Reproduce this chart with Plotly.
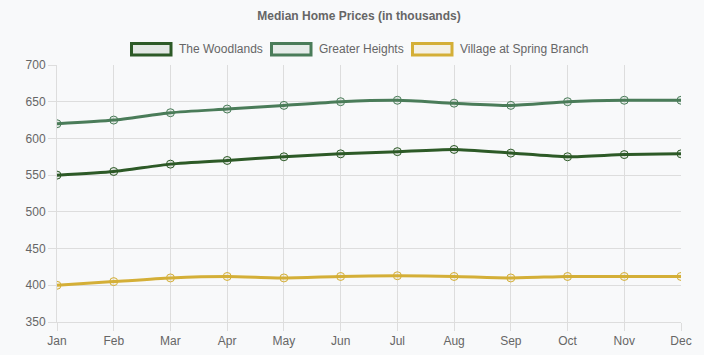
import plotly.graph_objects as go

months = ["Jan", "Feb", "Mar", "Apr", "May", "Jun", "Jul", "Aug", "Sep", "Oct", "Nov", "Dec"]
woodlands = [550, 555, 565, 570, 575, 579, 582, 585, 580, 575, 578, 579]
greater_heights = [620, 625, 635, 640, 645, 650, 652, 648, 645, 650, 652, 652]
village = [400, 405, 410, 412, 410, 412, 413, 412, 410, 412, 412, 412]

series = [
    ("The Woodlands", woodlands, "#2d5a27", "rgba(45,90,39,0.1)"),
    ("Greater Heights", greater_heights, "#4a7c59", "rgba(74,124,89,0.1)"),
    ("Village at Spring Branch", village, "#d4af37", "rgba(212,175,55,0.1)"),
]

W, H = 704, 355
L, R, T, B = 57, 23, 65, 33
PW, PH = W - L - R, H - T - B

def px_x(px):
    return (px - L) / PW

def px_y(py):
    return (H - B - py) / PH

fig = go.Figure()
for name, vals, color, fillc in series:
    fig.add_trace(go.Scatter(
        x=months, y=vals, mode="lines+markers", name=name, showlegend=False,
        line=dict(color=color, width=3, shape="spline", smoothing=0.6),
        marker=dict(size=8, color=fillc, line=dict(color=color, width=1)),
        hoverinfo="x+y",
    ))

# Chart.js-style legend (boxes + labels)
legend_box_left = [130, 270, 411]
shapes, annotations = [], []
for (name, vals, color, fillc), bx in zip(series, legend_box_left):
    shapes.append(dict(type="rect", xref="paper", yref="paper",
                       x0=px_x(bx + 1.5), x1=px_x(bx + 41), y0=px_y(55), y1=px_y(43.5),
                       line=dict(color=color, width=3), fillcolor=fillc))
    annotations.append(dict(xref="paper", yref="paper", x=px_x(bx + 47), y=px_y(48.5),
                            xanchor="left", yanchor="middle", showarrow=False, text=name,
                            font=dict(family="Liberation Sans, Arial", size=12, color="#666")))

fig.update_layout(
    width=W, height=H,
    margin=dict(l=L, r=R, t=T, b=B),
    paper_bgcolor="#f8f9fa", plot_bgcolor="#f8f9fa",
    title=dict(text="<b>Median Home Prices (in thousands)</b>", x=359 / W, xanchor="center",
               y=1 - 16 / H, yanchor="middle",
               font=dict(family="Liberation Sans, Arial", size=12, color="#666")),
    showlegend=False,
    shapes=shapes, annotations=annotations,
    font=dict(family="Liberation Sans, Arial", size=12, color="#666"),
)
fig.update_xaxes(
    type="category", range=[0, 11], showgrid=True, gridcolor="#dddddd", gridwidth=1,
    ticks="outside", ticklen=8, tickcolor="#dddddd", showline=True, linecolor="#dddddd",
    zeroline=False, automargin=False, tickfont=dict(size=12, color="#666"),
)
fig.update_yaxes(
    range=[350, 700], dtick=50, showgrid=True, gridcolor="#dddddd", gridwidth=1,
    ticks="outside", ticklen=8, tickcolor="#dddddd", showline=True, linecolor="#dddddd",
    zeroline=False, automargin=False, tickfont=dict(size=12, color="#666"),
)

fig.write_html("out.html", config={"displayModeBar": False},
               post_script="document.body.style.margin='0';")
